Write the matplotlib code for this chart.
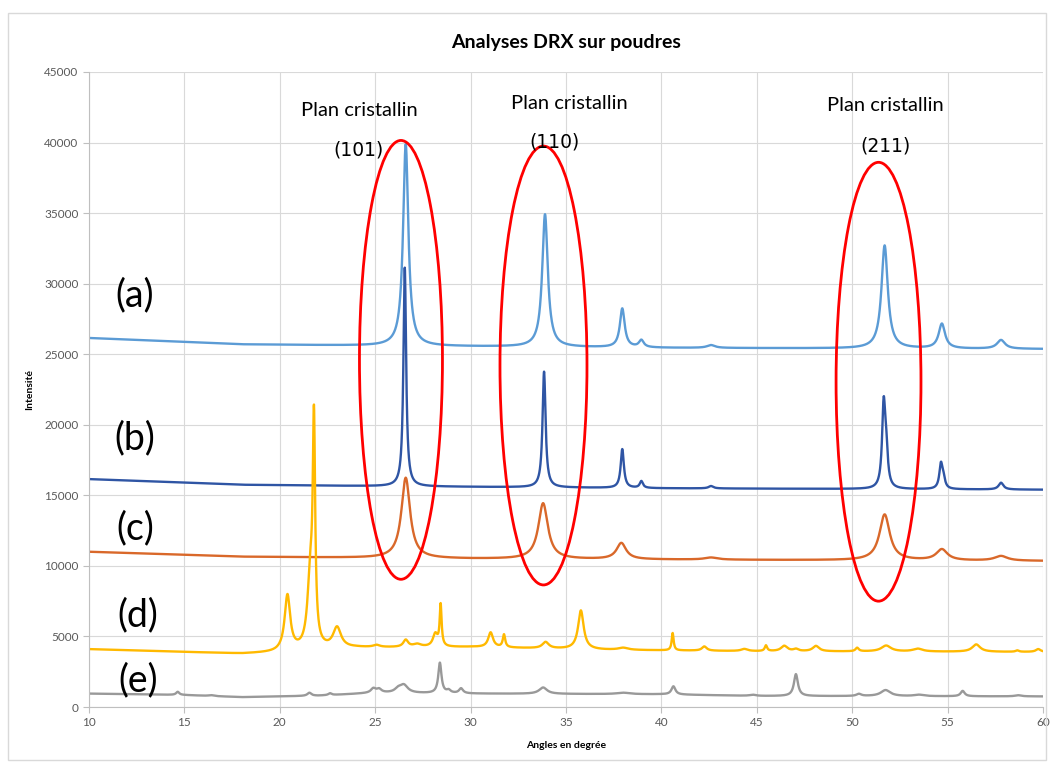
import numpy as np
import matplotlib
matplotlib.use("Agg")
import matplotlib.pyplot as plt
from matplotlib.patches import Ellipse, Rectangle

plt.rcParams['font.family'] = ['Lato', 'DejaVu Sans']

# diffractograms: baseline knots (angle, intensity) and peaks (angle, height above baseline, fwhm)
angles = np.linspace(10, 60, 5001)

base_a_x = [10, 18, 25, 40, 60]
base_a_y = [26150, 25700, 25600, 25450, 25370]
peaks_a_pos = [26.6, 33.9, 37.95, 38.95, 42.6, 51.7, 54.7, 57.8]
peaks_a_amp = [14300, 9400, 2750, 500, 200, 7300, 1750, 620]
peaks_a_fwhm = [0.33, 0.35, 0.3, 0.3, 0.5, 0.4, 0.4, 0.5]

base_b_x = [10, 18, 25, 40, 60]
base_b_y = [16150, 15750, 15650, 15500, 15400]
peaks_b_pos = [26.55, 33.85, 37.95, 38.95, 42.6, 51.65, 51.78, 54.65, 54.78, 57.8]
peaks_b_amp = [15500, 8200, 2750, 480, 170, 5700, 2300, 1700, 650, 480]
peaks_b_fwhm = [0.17, 0.19, 0.2, 0.2, 0.3, 0.2, 0.2, 0.2, 0.2, 0.3]

base_c_x = [10, 18, 30, 45, 60]
base_c_y = [11000, 10650, 10500, 10420, 10350]
peaks_c_pos = [26.6, 33.8, 37.9, 42.6, 51.7, 54.7, 57.8]
peaks_c_amp = [5700, 3950, 1150, 150, 3250, 780, 330]
peaks_c_fwhm = [0.55, 0.6, 0.6, 0.8, 0.65, 0.7, 0.8]

base_d_x = [10, 18, 19.8, 24, 30, 37, 45, 60]
base_d_y = [4100, 3780, 3850, 4200, 4250, 4050, 3950, 3900]
peaks_d_pos = [20.4, 21.6, 21.79, 23.0, 25.07, 26.6, 27.2, 28.15, 28.43, 31.05, 31.75,
               33.93, 35.78, 38.0, 40.59, 42.25, 44.35, 45.48, 46.44, 47.05, 48.1,
               50.26, 51.78, 53.44, 56.5, 58.65, 59.75]
peaks_d_amp = [3950, 5000, 15000, 1450, 150, 500, 200, 900, 2900, 1050, 900,
               450, 2750, 150, 1230, 300, 150, 400, 380, 150, 380,
               250, 420, 200, 520, 100, 200]
peaks_d_fwhm = [0.35, 0.35, 0.15, 0.5, 0.4, 0.3, 0.5, 0.3, 0.12, 0.3, 0.15,
                0.4, 0.35, 0.6, 0.12, 0.3, 0.4, 0.15, 0.4, 0.3, 0.4,
                0.2, 0.6, 0.6, 0.5, 0.2, 0.3]

base_e_x = [10, 15, 18, 22, 25, 30, 40, 45, 60]
base_e_y = [950, 850, 700, 800, 1000, 950, 900, 780, 750]
peaks_e_pos = [14.65, 16.4, 21.55, 22.63, 24.9, 25.2, 26.2, 26.5, 28.39, 28.85, 29.5,
               33.8, 38.0, 40.63, 44.8, 47.05, 50.35, 51.75, 53.5, 55.79, 58.7]
peaks_e_amp = [220, 60, 220, 130, 300, 250, 250, 550, 2150, 200, 350,
               450, 100, 580, 80, 1550, 150, 430, 100, 380, 80]
peaks_e_fwhm = [0.2, 0.3, 0.25, 0.2, 0.3, 0.3, 0.4, 0.5, 0.2, 0.25, 0.25,
                0.5, 0.8, 0.25, 0.4, 0.25, 0.3, 0.6, 0.6, 0.25, 0.4]

series_labels = ['(a)', '(b)', '(c)', '(d)', '(e)']
series_colors = ['#5B9BD5', '#2F55A4', '#D9682A', '#FFB900', '#999999']

# red ellipses around the crystal planes: centre angle, centre intensity, width, height
ellipse_x = [26.35, 33.82, 51.38]
ellipse_y = [24600, 24200, 23050]
ellipse_w = [4.35, 4.56, 4.45]
ellipse_h = [31100, 31100, 31100]
plane_labels = ['(101)', '(110)', '(211)']


def pattern(bx, by, pos, amp, fwhm):
    y = np.interp(angles, bx, by)
    for p, a, w in zip(pos, amp, fwhm):
        y = y + a / (1 + ((angles - p) / (w / 2)) ** 2)
    return y


curves = [
    pattern(base_a_x, base_a_y, peaks_a_pos, peaks_a_amp, peaks_a_fwhm),
    pattern(base_b_x, base_b_y, peaks_b_pos, peaks_b_amp, peaks_b_fwhm),
    pattern(base_c_x, base_c_y, peaks_c_pos, peaks_c_amp, peaks_c_fwhm),
    pattern(base_d_x, base_d_y, peaks_d_pos, peaks_d_amp, peaks_d_fwhm),
    pattern(base_e_x, base_e_y, peaks_e_pos, peaks_e_amp, peaks_e_fwhm),
]

fig = plt.figure(figsize=(10.51, 7.63), dpi=100)
fig.patches.append(Rectangle((8 / 1051, 3 / 763), 1038 / 1051, 747 / 763,
                             transform=fig.transFigure, fill=False,
                             edgecolor='#D9D9D9', linewidth=1))
ax = fig.add_axes([89 / 1051, 1 - 707 / 763, 954 / 1051, 635 / 763])

for y, c in zip(curves, series_colors):
    ax.plot(angles, y, color=c, linewidth=1.7)

for x, y, w, h in zip(ellipse_x, ellipse_y, ellipse_w, ellipse_h):
    ax.add_patch(Ellipse((x, y), w, h, fill=False, edgecolor='#FF0000',
                         linewidth=2.0, zorder=5))

ax.set_xlim(10, 60)
ax.set_ylim(0, 45000)
ax.set_xticks(np.arange(10, 61, 5))
ax.set_yticks(np.arange(0, 45001, 5000))
ax.grid(True, color='#D9D9D9', linewidth=0.8)
ax.set_axisbelow(True)
for s in ['top', 'right']:
    ax.spines[s].set_visible(False)
for s in ['left', 'bottom']:
    ax.spines[s].set_color('#BFBFBF')
ax.tick_params(colors='#BFBFBF', labelcolor='#595959', labelsize=8.5, length=4)

ax.set_title('Analyses DRX sur poudres', fontsize=14, fontweight='bold', pad=17)
ax.set_xlabel('Angles en degrée', fontsize=7.5, fontweight='bold', labelpad=9)
ax.set_ylabel('Intensité', fontsize=7.5, fontweight='bold', labelpad=7)

plan_x = [24.15, 35.2, 51.72]
plan_y = [42300, 42740, 42600]
hkl_x = [24.1, 34.42, 51.77]
hkl_y = [39470, 40040, 39760]
for px, py, hx, hy, t in zip(plan_x, plan_y, hkl_x, hkl_y, plane_labels):
    ax.text(px, py, 'Plan cristallin', fontsize=14.5, ha='center', va='center')
    ax.text(hx, hy, t, fontsize=13.5, ha='center', va='center',
            family=['DejaVu Sans'], zorder=6)

lab_x = [12.41, 12.41, 12.41, 12.57, 12.57]
lab_y = [29200, 19060, 12690, 6520, 1910]
for x, y, t in zip(lab_x, lab_y, series_labels):
    ax.text(x, y, t, fontsize=27, ha='center', va='center')

fig.savefig('out.png', dpi=100)
